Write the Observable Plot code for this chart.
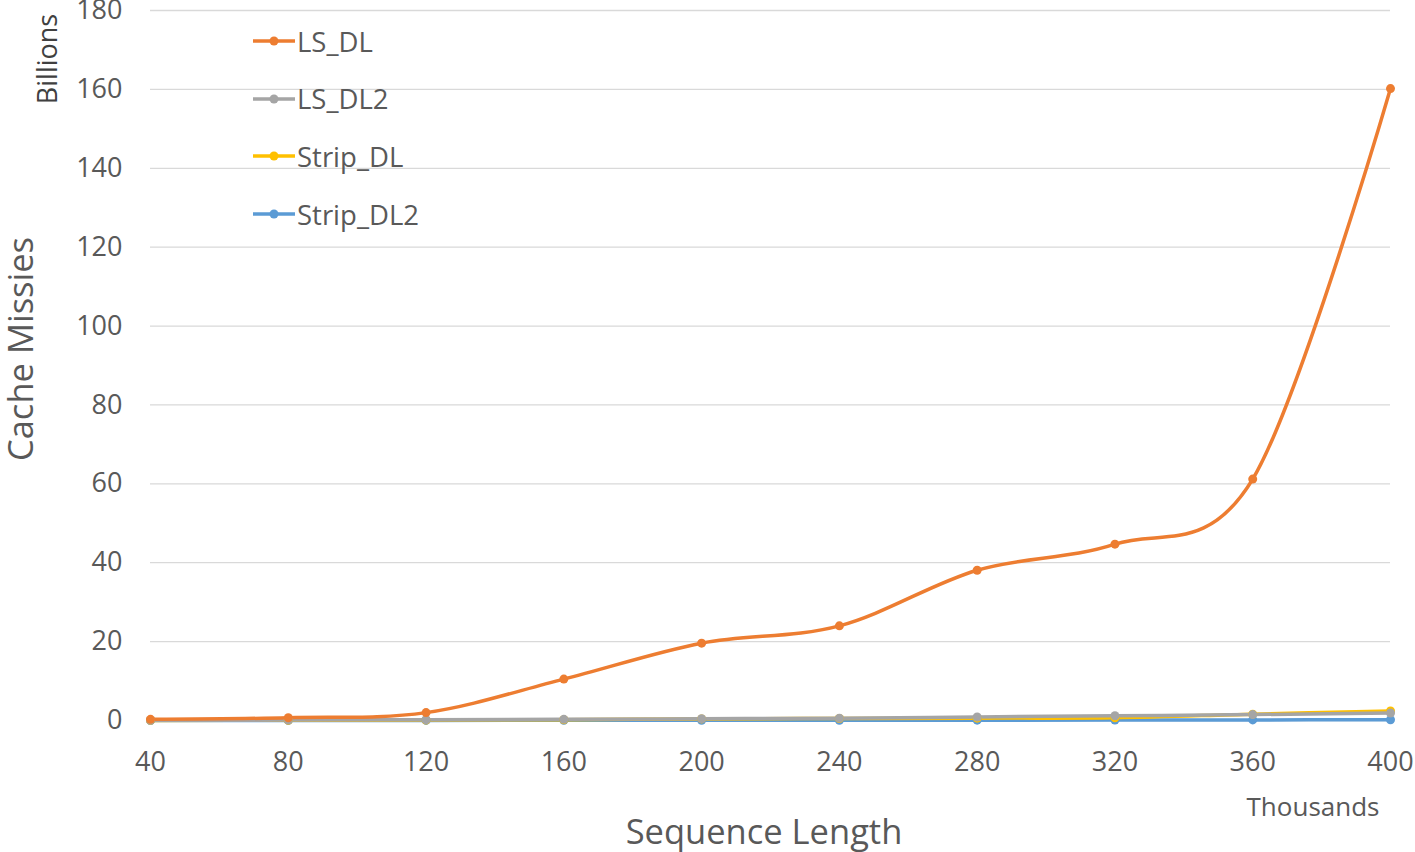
<!DOCTYPE html>
<html>
<head>
<meta charset="utf-8">
<script src="https://cdn.jsdelivr.net/npm/d3@7"></script>
<script src="https://cdn.jsdelivr.net/npm/@observablehq/plot@0.6"></script>
<style>
  html, body { margin: 0; padding: 0; background: #fff; }
  #chart { position: relative; width: 1415px; height: 852px; font-family: "Open Sans", "Noto Sans", sans-serif; }
  .legend { position: absolute; left: 252px; top: 21px; color: #595959; font-size: 27.5px; }
  .legend .item { display: flex; align-items: center; height: 40px; margin-bottom: 17.7px; }
  .legend svg { margin-right: 1px; }
</style>
</head>
<body>
<div id="chart"></div>
<script>
const seqLength = [40, 80, 120, 160, 200, 240, 280, 320, 360, 400];
const seriesNames = ["LS_DL", "LS_DL2", "Strip_DL", "Strip_DL2"];
const seriesColors = ["#ed7d31", "#a5a5a5", "#ffc000", "#5b9bd5"];
const LS_DL     = [0.3, 0.7, 2.0, 10.5, 19.6, 24.0, 38.1, 44.7, 61.2, 160.2];
const LS_DL2    = [0.05, 0.1, 0.2, 0.3, 0.45, 0.6, 0.9, 1.2, 1.5, 1.9];
const Strip_DL  = [0.02, 0.05, 0.1, 0.2, 0.4, 0.5, 0.6, 0.7, 1.6, 2.4];
const Strip_DL2 = [0.01, 0.02, 0.03, 0.04, 0.05, 0.06, 0.08, 0.1, 0.15, 0.2];
const yTicks = [0, 20, 40, 60, 80, 100, 120, 140, 160, 180];
const xTicks = [40, 80, 120, 160, 200, 240, 280, 320, 360, 400];

const seriesValues = [LS_DL, LS_DL2, Strip_DL, Strip_DL2];
const data = [];
// draw in reverse so LS_DL on top
for (let s = seriesNames.length - 1; s >= 0; s--) {
  seqLength.forEach((x, i) => data.push({series: seriesNames[s], x, y: seriesValues[s][i]}));
}

const textColor = "#595959";
const plot = Plot.plot({
  width: 1415,
  height: 852,
  marginLeft: 150,
  marginRight: 25,
  marginTop: 10,
  marginBottom: 132,
  style: {fontFamily: '"Open Sans", "Noto Sans", sans-serif', fontSize: "27px", color: textColor, background: "white", overflow: "visible"},
  x: {domain: [40, 400], ticks: xTicks, label: null},
  y: {domain: [0, 180], ticks: yTicks, label: null},
  color: {domain: seriesNames, range: seriesColors},
  marks: [
    Plot.ruleY(yTicks, {stroke: "#d9d9d9", strokeWidth: 1.3}),
    Plot.axisY({ticks: yTicks, tickSize: 0, tickPadding: 28, fontSize: 27, fill: textColor, label: null}),
    Plot.axisX({ticks: xTicks, tickSize: 0, tickPadding: 31, fontSize: 27, fill: textColor, label: null}),
    Plot.line(data, {x: "x", y: "y", z: "series", stroke: "series", strokeWidth: 3.5, curve: "cardinal"}),
    Plot.dot(data, {x: "x", y: "y", fill: "series", r: 4.5})
  ]
});
const chart = document.getElementById("chart");
chart.appendChild(plot);

const svg = d3.select(plot);
svg.append("text").attr("transform", "translate(33,349) rotate(-90)").attr("text-anchor", "middle")
  .attr("fill", textColor).attr("font-size", 34.5).text("Cache Missies");
svg.append("text").attr("transform", "translate(57,59) rotate(-90)").attr("text-anchor", "middle")
  .attr("fill", "#404040").attr("font-size", 27).text("Billions");
svg.append("text").attr("x", 1313).attr("y", 816).attr("text-anchor", "middle")
  .attr("fill", textColor).attr("font-size", 26).text("Thousands");
svg.append("text").attr("x", 764).attr("y", 844).attr("text-anchor", "middle")
  .attr("fill", textColor).attr("font-size", 34.5).text("Sequence Length");

// legend
const legend = document.createElement("div");
legend.className = "legend";
seriesNames.forEach((name, i) => {
  const item = document.createElement("div");
  item.className = "item";
  item.innerHTML = `<svg width="44" height="10"><line x1="1" x2="43" y1="5" y2="5" stroke="${seriesColors[i]}" stroke-width="3.5"/><circle cx="22" cy="5" r="4.5" fill="${seriesColors[i]}"/></svg><span>${name}</span>`;
  legend.appendChild(item);
});
chart.appendChild(legend);
</script>
</body>
</html>
